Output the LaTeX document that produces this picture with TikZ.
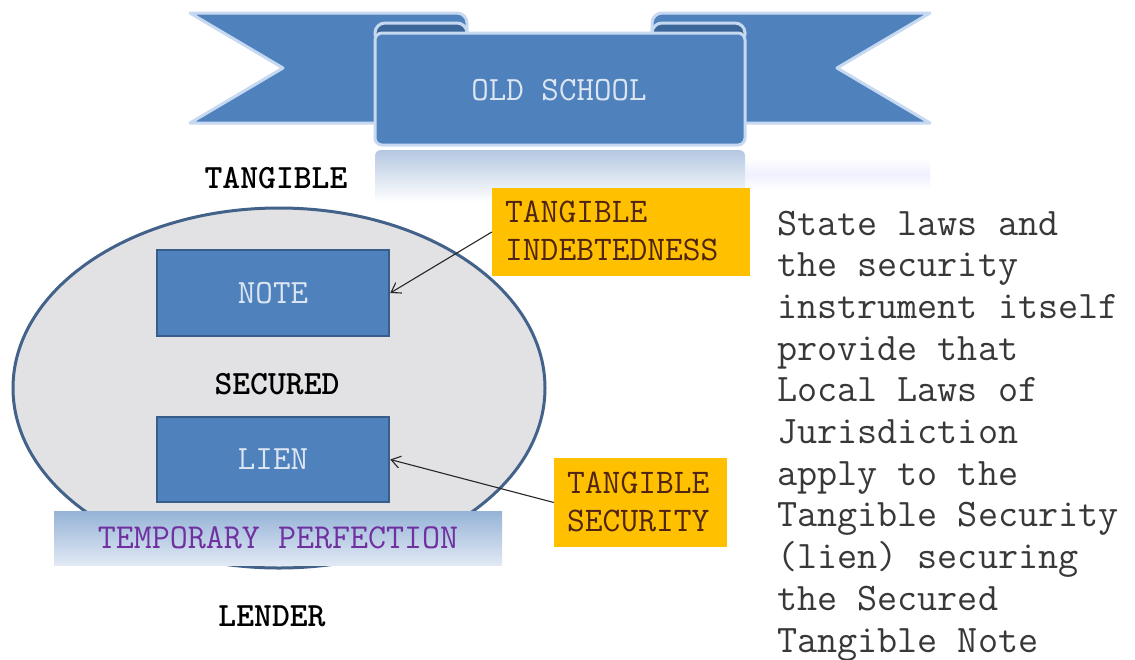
\documentclass[tikz,border=0pt]{standalone}
\newcommand{\mono}{\ttfamily}
\usetikzlibrary{shapes.geometric,arrows.meta}
\definecolor{ribbon}{HTML}{4F81BD}
\definecolor{ribbonedge}{HTML}{C6D9F1}
\definecolor{ribbondark}{HTML}{3B6699}
\definecolor{boxedge}{HTML}{385D8A}
\definecolor{ellfill}{HTML}{E2E2E4}
\definecolor{elledge}{HTML}{43628A}
\definecolor{paletext}{HTML}{DCE6F2}
\definecolor{orangebox}{HTML}{FFC000}
\definecolor{browntext}{HTML}{4F2412}
\definecolor{purpletext}{HTML}{7030A0}
\definecolor{bartop}{HTML}{95B3D7}
\definecolor{barbottom}{HTML}{E1E9F4}
\definecolor{graytext}{HTML}{383838}
\definecolor{reflect}{HTML}{B5C8E1}
\begin{document}
\begin{tikzpicture}[x=1pt,y=-1pt,
  ribbonpart/.style={fill=ribbon, draw=ribbonedge, line width=3pt, line join=round},
  bluebox/.style={rectangle, draw=boxedge, line width=2.5pt, fill=ribbon,
    minimum width=232pt, minimum height=86pt, inner sep=0pt,
    font=\fontsize{34}{40}\mono, text=paletext},
  lbl/.style={inner sep=0pt, font=\fontsize{34}{40}\mono\bfseries, text=black},
  orangebox/.style={rectangle, fill=orangebox, inner sep=0pt},
  orangetext/.style={inner sep=0pt, anchor=base west, font=\fontsize{34.5}{40}\mono, text=browntext},
  bodytext/.style={inner sep=0pt, anchor=base west, font=\fontsize{39}{45}\mono, text=graytext},
  conn/.style={draw=black!85, line width=1.1pt, -{Straight Barb[length=9pt,width=12pt]}}
]
\useasboundingbox (0,0) rectangle (1135,659);
\fill[white] (0,0) rectangle (1135,659);

% reflections
\shade[top color=white, bottom color=white, middle color=blue!6] (375,158) rectangle (930,190);
\shade[top color=reflect, bottom color=white, rounded corners=6] (375,150) rectangle (745,202);

% ribbon tails
\path[ribbonpart] (190,13) [rounded corners=10]-- (467,13) [sharp corners]-- (467,36) -- (400,36) -- (400,123) -- (190,123) -- (283,68) -- cycle;
\path[ribbonpart] (930,13) [rounded corners=10]-- (652,13) [sharp corners]-- (652,36) -- (720,36) -- (720,123) -- (930,123) -- (837,68) -- cycle;
% curls
\path[ribbonpart, fill=ribbondark, rounded corners=10] (375,23) rectangle (467,44);
\path[ribbonpart, fill=ribbondark, rounded corners=10] (652,23) rectangle (745,44);
% central panel
\path[ribbonpart, rounded corners=7] (375,33) rectangle (745,145);
\node[inner sep=0pt, anchor=base, font=\fontsize{34}{40}\mono, text=paletext] (title) at (559,100) {OLD SCHOOL};

% labels
\node[lbl, anchor=base] (tangible) at (276,188) {TANGIBLE};

% ellipse
\node[ellipse, draw=elledge, line width=3pt, fill=ellfill, minimum width=532pt, minimum height=360pt, inner sep=0pt] (oval) at (279,388) {};

\node[bluebox] (note) at (273,293) {NOTE};
\node[bluebox, minimum height=85pt] (lien) at (273,459.5) {LIEN};
\node[lbl, anchor=base] (secured) at (277,394) {SECURED};

% temporary perfection bar
\node[rectangle, inner sep=0pt, top color=bartop, bottom color=barbottom,
  minimum width=448pt, minimum height=54pt, font=\fontsize{35}{40}\mono, text=purpletext] (temp) at (278,538) {TEMPORARY PERFECTION};

\node[lbl, anchor=base] (lender) at (272,626) {LENDER};

% orange boxes
\node[orangebox, minimum width=258pt, minimum height=88pt] (ind) at (621,232) {};
\node[orangetext] (indA) at (505,222) {TANGIBLE};
\node[orangetext] (indB) at (505,260) {INDEBTEDNESS};
\node[orangebox, minimum width=173pt, minimum height=89pt] (sec) at (640.5,502.5) {};
\node[orangetext] (secA) at (567,493) {TANGIBLE};
\node[orangetext] (secB) at (567,531) {SECURITY};

% arrows
\draw[conn] (ind.west) -- (note.east);
\draw[conn] (sec.west) -- (lien.east);

% right-hand text
\foreach \t [count=\i from 0] in {State laws and, the security, instrument itself, provide that, Local Laws of, Jurisdiction, apply to the, Tangible Security, (lien) securing, the Secured, Tangible Note}
  \node[bodytext] (line\i) at (777,{235+41.7*\i}) {\t};
\end{tikzpicture}
\end{document}
